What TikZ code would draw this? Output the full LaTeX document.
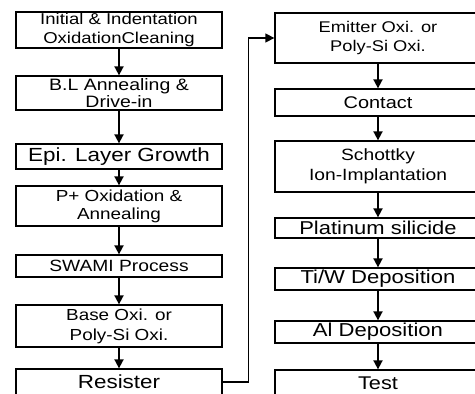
\documentclass[tikz,border=0pt]{standalone}
\usepackage{fontspec}
\setmainfont{Liberation Sans}[FakeStretch=1.18]
\usetikzlibrary{arrows.meta}
\newcommand\myfs[2]{\fontsize{#1}{#2}\selectfont}
\begin{document}
\begin{tikzpicture}[x=1pt,y=-1pt,
  box/.style={draw, line width=1.3pt, rectangle, inner sep=0pt, align=center, minimum width=206pt},
  flow/.style={line width=1.8pt, -{Triangle[length=9pt,width=9pt]}},
  link/.style={line width=1.4pt, -{Triangle[length=9pt,width=9pt]}}]
\useasboundingbox (0,0) rectangle (475,394);
% left column
\node[box, minimum height=36pt, font=\myfs{15.7}{19}] (b1) at (119,30) {Initial \& Indentation\\OxidationCleaning};
\node[box, minimum height=34pt, font=\myfs{16.5}{17}] (b2) at (119,93) {B.L Annealing \&\\Drive-in};
\node[box, minimum height=25pt, font=\myfs{19}{20}] (b3) at (119,156.5) {Epi. Layer Growth};
\node[box, minimum height=40pt, font=\myfs{16}{18}] (b4) at (119,206) {P+ Oxidation \&\\Annealing};
\node[box, minimum height=22pt, font=\myfs{16.3}{18}] (b5) at (119,266) {SWAMI Process};
\node[box, minimum height=42pt, font=\myfs{16}{20}] (b6) at (119,326) {Base Oxi. or\\Poly-Si Oxi.};
\node[box, minimum height=26pt, font=\myfs{19}{20}] (b7) at (119,382) {Resister};
% right column
\node[box, minimum height=50pt, font=\myfs{15.5}{19}] (r1) at (378,38) {Emitter Oxi. or\\Poly-Si Oxi.};
\node[box, minimum height=27pt, font=\myfs{16.9}{18}] (r2) at (378,102.5) {Contact};
\node[box, minimum height=51pt, font=\myfs{16.3}{20}] (r3) at (378,166.5) {Schottky\\Ion-Implantation};
\node[box, minimum height=20pt, font=\myfs{18.6}{19}] (r4) at (378,228) {Platinum silicide};
\node[box, minimum height=22pt, font=\myfs{18.7}{19}] (r5) at (378,279) {Ti/W Deposition};
\node[box, minimum height=22pt, font=\myfs{18.7}{19}] (r6) at (378,332) {Al Deposition};
\node[box, minimum height=26pt, font=\myfs{18.4}{19}] (r7) at (378,383) {Test};
% arrows
\foreach \a/\b in {b1/b2,b2/b3,b3/b4,b4/b5,b5/b6,b6/b7,r1/r2,r2/r3,r3/r4,r4/r5,r5/r6,r6/r7}
  \draw[flow] (\a.south) -- (\b.north);
\draw[link] (b7.east) -- ++(26,0) |- (r1.west);
\end{tikzpicture}
\end{document}
